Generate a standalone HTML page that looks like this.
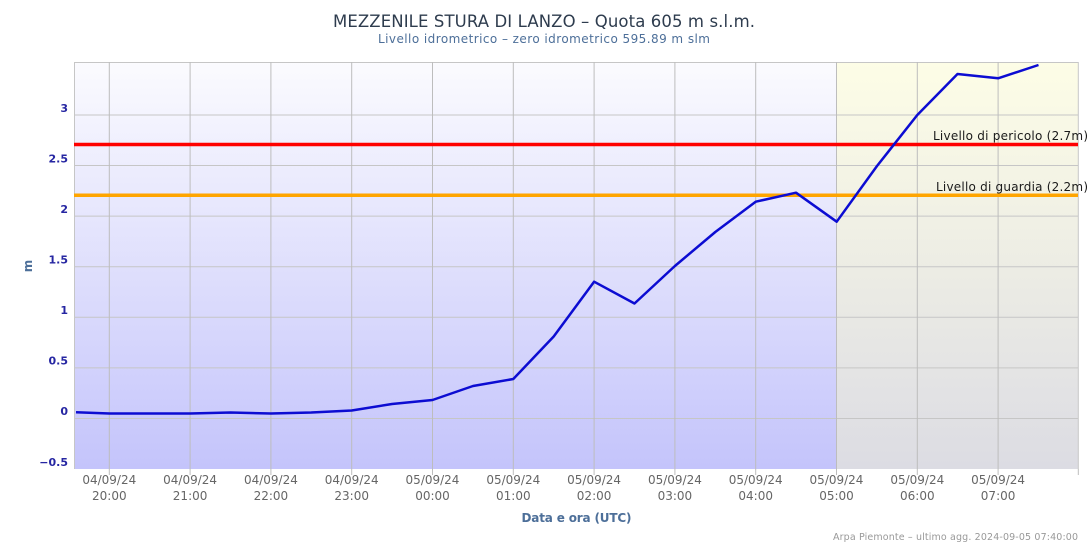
<!DOCTYPE html>
<html><head><meta charset="utf-8"><style>
html,body{margin:0;padding:0;background:#fff;}
svg{display:block;font-family:"DejaVu Sans","Liberation Sans",sans-serif;}
</style></head><body>
<svg width="1090" height="545" viewBox="0 0 1090 545" xmlns="http://www.w3.org/2000/svg">
<defs>
<linearGradient id="gl" x1="0" y1="0" x2="0" y2="1">
<stop offset="0" stop-color="#fbfbfe"/>
<stop offset="1" stop-color="#c4c4fb"/>
</linearGradient>
<linearGradient id="gr" x1="0" y1="0" x2="0" y2="1">
<stop offset="0" stop-color="#fdfde6"/>
<stop offset="1" stop-color="#dcdce3"/>
</linearGradient>
</defs>
<rect x="0" y="0" width="1090" height="545" fill="#fff"/>
<rect x="74" y="62" width="762.7" height="407" fill="url(#gl)"/>
<rect x="836.7" y="62" width="241.6" height="407" fill="url(#gr)"/>
<g stroke="#c6c6c6" stroke-width="1">
<line x1="74" y1="62.5" x2="1078" y2="62.5"/>
<line x1="74" y1="115" x2="1078" y2="115"/>
<line x1="74" y1="165.5" x2="1078" y2="165.5"/>
<line x1="74" y1="216.1" x2="1078" y2="216.1"/>
<line x1="74" y1="266.7" x2="1078" y2="266.7"/>
<line x1="74" y1="317.3" x2="1078" y2="317.3"/>
<line x1="74" y1="367.9" x2="1078" y2="367.9"/>
<line x1="74" y1="418.5" x2="1078" y2="418.5"/>
<line x1="74.5" y1="62" x2="74.5" y2="469"/>
<line x1="1078.3" y1="62" x2="1078.3" y2="469"/>
</g>
<g stroke="#bdbdbd" stroke-width="1">
<line x1="109.3" y1="62" x2="109.3" y2="475"/>
<line x1="190.1" y1="62" x2="190.1" y2="475"/>
<line x1="270.9" y1="62" x2="270.9" y2="475"/>
<line x1="351.7" y1="62" x2="351.7" y2="475"/>
<line x1="432.5" y1="62" x2="432.5" y2="475"/>
<line x1="513.3" y1="62" x2="513.3" y2="475"/>
<line x1="594.1" y1="62" x2="594.1" y2="475"/>
<line x1="674.9" y1="62" x2="674.9" y2="475"/>
<line x1="755.7" y1="62" x2="755.7" y2="475"/>
<line x1="836.5" y1="62" x2="836.5" y2="475"/>
<line x1="917.3" y1="62" x2="917.3" y2="475"/>
<line x1="998.1" y1="62" x2="998.1" y2="475"/>
<line x1="1078.3" y1="469" x2="1078.3" y2="475"/>
</g>
<line x1="74" y1="144.5" x2="1078" y2="144.5" stroke="#ff0000" stroke-width="3.5"/>
<line x1="74" y1="195.3" x2="1078" y2="195.3" stroke="#ffa500" stroke-width="3.5"/>
<text x="1088" y="140" text-anchor="end" font-size="12" fill="#1a1a1a" textLength="155">Livello di pericolo (2.7m)</text>
<text x="1088" y="191" text-anchor="end" font-size="12" fill="#1a1a1a" textLength="152">Livello di guardia (2.2m)</text>
<polyline fill="none" stroke="#0c0cd2" stroke-width="2.5" stroke-linejoin="round" points="76,412.3 109.3,413.5 150,413.5 190.1,413.5 230.5,412.5 270.9,413.5 311.3,412.5 351.7,410.5 392,404 432.5,400 473,386 513.3,379 553.7,336.5 594.1,281.7 634.5,303.5 674.9,266 715.3,232 755.7,201.7 796,192.7 836.7,221.7 877,166 917.3,115 957.5,74 998.1,78.3 1038.5,65"/>
<g font-size="11" font-weight="bold" fill="#2626a2" text-anchor="end">
<text x="68" y="112">3</text>
<text x="68" y="162.5">2.5</text>
<text x="68" y="213">2</text>
<text x="68" y="263.5">1.5</text>
<text x="68" y="314">1</text>
<text x="68" y="364.5">0.5</text>
<text x="68" y="415">0</text>
<text x="68" y="466">−0.5</text>
</g>
<text x="32" y="266" font-size="12" font-weight="bold" fill="#4d6f99" text-anchor="middle" transform="rotate(-90 32 266)">m</text>
<g font-size="12" fill="#666" text-anchor="middle">
<text x="109.3" y="484">04/09/24</text><text x="109.3" y="500">20:00</text>
<text x="190.1" y="484">04/09/24</text><text x="190.1" y="500">21:00</text>
<text x="270.9" y="484">04/09/24</text><text x="270.9" y="500">22:00</text>
<text x="351.7" y="484">04/09/24</text><text x="351.7" y="500">23:00</text>
<text x="432.5" y="484">05/09/24</text><text x="432.5" y="500">00:00</text>
<text x="513.3" y="484">05/09/24</text><text x="513.3" y="500">01:00</text>
<text x="594.1" y="484">05/09/24</text><text x="594.1" y="500">02:00</text>
<text x="674.9" y="484">05/09/24</text><text x="674.9" y="500">03:00</text>
<text x="755.7" y="484">05/09/24</text><text x="755.7" y="500">04:00</text>
<text x="836.5" y="484">05/09/24</text><text x="836.5" y="500">05:00</text>
<text x="917.3" y="484">05/09/24</text><text x="917.3" y="500">06:00</text>
<text x="998.1" y="484">05/09/24</text><text x="998.1" y="500">07:00</text>
</g>
<text x="576.5" y="522" font-size="12" font-weight="bold" fill="#4d6f99" text-anchor="middle" textLength="110">Data e ora (UTC)</text>
<text x="544" y="27" font-size="16.5" fill="#2e3c4e" text-anchor="middle" textLength="422">MEZZENILE STURA DI LANZO – Quota 605 m s.l.m.</text>
<text x="544" y="43" font-size="12" fill="#4d6f99" text-anchor="middle" textLength="332">Livello idrometrico – zero idrometrico 595.89 m slm</text>
<text x="1078" y="540" font-size="9.5" fill="#999" text-anchor="end" textLength="245">Arpa Piemonte – ultimo agg. 2024-09-05 07:40:00</text>
</svg>
</body></html>
